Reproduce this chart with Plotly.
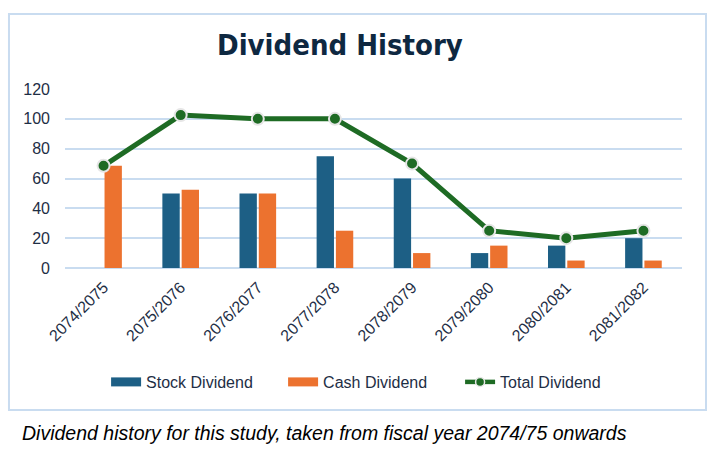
import plotly.graph_objects as go

categories = ["2074/2075", "2075/2076", "2076/2077", "2077/2078",
              "2078/2079", "2079/2080", "2080/2081", "2081/2082"]
stock_dividend = [0, 50, 50, 75, 60, 10, 15, 20]
cash_dividend = [68.5, 52.5, 50, 25, 10, 15, 5, 5]
total_dividend = [68.5, 102.5, 100, 100, 70, 25, 20, 25]
y_ticks = [0, 20, 40, 60, 80, 100, 120]

TEXT = "#1E2E45"
GRID = "#C9DCF0"
STOCK = "#1D5F85"
CASH = "#EC722F"
TOTAL = "#1E6B24"
FONT = "Liberation Sans, Arial, sans-serif"

fig = go.Figure()
fig.add_trace(go.Bar(
    name="Stock Dividend", x=categories, y=stock_dividend, showlegend=False,
    marker=dict(color=STOCK, line=dict(width=0)),
))
fig.add_trace(go.Bar(
    name="Cash Dividend", x=categories, y=cash_dividend, showlegend=False,
    marker=dict(color=CASH, line=dict(width=0)),
))
fig.add_trace(go.Scatter(
    name="Total Dividend", x=categories, y=total_dividend,
    mode="lines+markers", showlegend=False,
    line=dict(color=TOTAL, width=5),
    marker=dict(symbol="circle", size=12, color=TOTAL,
                line=dict(color="#E6E6E6", width=2)),
))
# legend entries (wide swatches like the original)
fig.add_trace(go.Scatter(name="Stock Dividend", x=[None], y=[None], mode="lines",
                         line=dict(color=STOCK, width=9)))
fig.add_trace(go.Scatter(name="Cash Dividend", x=[None], y=[None], mode="lines",
                         line=dict(color=CASH, width=9)))
fig.add_trace(go.Scatter(name="Total Dividend", x=[None], y=[None], mode="lines+markers",
                         line=dict(color=TOTAL, width=4.5),
                         marker=dict(symbol="circle", size=9, color=TOTAL,
                                     line=dict(color="#E6E6E6", width=1.5))))

fig.update_layout(
    width=712, height=451,
    margin=dict(l=65, r=30, t=89, b=183, autoexpand=False),
    paper_bgcolor="white", plot_bgcolor="white",
    barmode="group", bargap=0.5, bargroupgap=0.1,
    font=dict(family=FONT, color=TEXT, size=16),
    showlegend=True,
    legend=dict(orientation="h", xref="container", yref="container",
                x=0.149, xanchor="left", y=0.153, yanchor="middle",
                font=dict(size=16, color=TEXT, family=FONT), itemwidth=30,
                entrywidth=132, entrywidthmode="pixels",
                traceorder="normal", bgcolor="rgba(0,0,0,0)"),
    xaxis=dict(tickangle=-45, tickfont=dict(size=16, color=TEXT), showgrid=False,
               showline=False, ticks="", automargin=False, ticklabelstandoff=6),
    yaxis=dict(range=[0, 120], tickvals=y_ticks, tickfont=dict(size=16, color=TEXT),
               showgrid=True, gridcolor=GRID, gridwidth=2, zeroline=True,
               zerolinecolor=GRID, zerolinewidth=2, showline=False, ticks="",
               ticklabelstandoff=14, automargin=False),
)

fig.add_shape(type="rect", xref="paper", yref="paper",
              x0=-0.0908, x1=1.0389, y0=-0.793, y1=1.419,
              line=dict(color=GRID, width=2), fillcolor="rgba(0,0,0,0)",
              layer="below")

fig.add_annotation(text="<b>Dividend History</b>", xref="paper", yref="paper",
                   x=0.446, y=1.246, xanchor="center", yanchor="middle",
                   showarrow=False,
                   font=dict(size=29, color="#0E2841",
                             family="DejaVu Sans Condensed, DejaVu Sans, sans-serif"))

fig.add_annotation(text="<i>Dividend history for this study, taken from fiscal year 2074/75 onwards</i>",
                   xref="paper", yref="paper", x=-0.073, y=-0.922,
                   xanchor="left", yanchor="middle", showarrow=False,
                   font=dict(size=19.5, color="#000000", family=FONT))

fig.write_html("out.html", config={"displayModeBar": False},
               post_script="document.body.style.margin='0';")
